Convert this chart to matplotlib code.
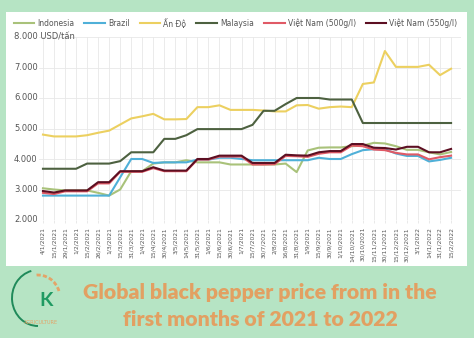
#!/usr/bin/env python3
# -*- coding: utf-8 -*-
import numpy as np
import matplotlib
matplotlib.use("Agg")
import matplotlib.pyplot as plt
from matplotlib.patches import Rectangle, Arc

#!----------------------------------------------------------------------
#!	DATA
#!----------------------------------------------------------------------
dates = ["4/1/2021", "15/1/2021", "29/1/2021", "1/2/2021", "15/2/2021", "26/2/2021",
	"1/3/2021", "15/3/2021", "31/3/2021", "1/4/2021", "15/4/2021", "30/4/2021",
	"3/5/2021", "14/5/2021", "31/5/2021", "1/6/2021", "15/6/2021", "30/6/2021",
	"1/7/2021", "15/7/2021", "30/7/2021", "2/8/2021", "16/8/2021", "31/8/2021",
	"1/9/2021", "15/9/2021", "30/9/2021", "1/10/2021", "14/10/2021", "30/10/2021",
	"15/11/2021", "30/11/2021", "15/12/2021", "30/12/2021", "3/1/2022", "14/1/2022",
	"31/1/2022", "15/2/2022"]

indonesia = [3040, 3000, 2970, 2970, 2970, 2890, 2800, 3000, 3600, 3600, 3850, 3890,
	3890, 3960, 3890, 3890, 3890, 3820, 3820, 3820, 3820, 3820, 3850, 3570,
	4280, 4370, 4380, 4380, 4420, 4440, 4530, 4510, 4420, 4300, 4300, 4220,
	4150, 4230]
brazil = [2800, 2800, 2800, 2800, 2800, 2800, 2800, 3400, 4000, 4000, 3870, 3890,
	3890, 3890, 3980, 3980, 4040, 4040, 4000, 3960, 3960, 3960, 3960, 3960,
	3960, 4040, 4000, 4000, 4160, 4290, 4320, 4320, 4180, 4100, 4100, 3920,
	3970, 4040]
an_do = [4800, 4740, 4740, 4740, 4780, 4860, 4930, 5130, 5330, 5400, 5480, 5300,
	5300, 5310, 5700, 5700, 5760, 5610, 5610, 5610, 5590, 5560, 5560, 5760,
	5770, 5650, 5700, 5720, 5700, 6460, 6510, 7540, 7020, 7020, 7020, 7090,
	6750, 6960]
malaysia = [3680, 3680, 3680, 3680, 3850, 3850, 3850, 3930, 4220, 4220, 4220, 4660,
	4660, 4780, 4980, 4980, 4980, 4980, 4980, 5120, 5580, 5580, 5800, 6000,
	6000, 6000, 5950, 5950, 5950, 5180, 5180, 5180, 5180, 5180, 5180, 5180,
	5180, 5180]
vn500 = [2890, 2850, 2940, 2940, 2940, 3200, 3200, 3580, 3580, 3580, 3700, 3600,
	3600, 3600, 3980, 3980, 4080, 4080, 4080, 3820, 3820, 3830, 4100, 4090,
	4070, 4170, 4220, 4220, 4440, 4420, 4310, 4290, 4200, 4150, 4150, 3990,
	4060, 4110]
vn550 = [2950, 2900, 2970, 2970, 2970, 3240, 3240, 3600, 3600, 3600, 3730, 3620,
	3620, 3620, 4000, 4000, 4110, 4110, 4110, 3870, 3870, 3870, 4140, 4120,
	4110, 4220, 4260, 4260, 4490, 4490, 4370, 4360, 4310, 4400, 4400, 4220,
	4220, 4330]

series = [("Indonesia", indonesia, "#a9c27a"),
	("Brazil", brazil, "#4fb0d8"),
	("Ấn Độ", an_do, "#ecd060"),
	("Malaysia", malaysia, "#4d6140"),
	("Việt Nam (500g/l)", vn500, "#e05a66"),
	("Việt Nam (550g/l)", vn550, "#5c0f22")]

yticks = [2000, 3000, 4000, 5000, 6000, 7000, 8000]

#!----------------------------------------------------------------------
#!	PLOT
#!----------------------------------------------------------------------
W, H = 474, 338
fig = plt.figure(figsize=(W/100.0, H/100.0), dpi=100)
fig.patch.set_facecolor("#b6e4c4")

# white card
fig.patches.append(Rectangle((6.0/W, 1-266.0/H), 461.0/W, 254.0/H,
	transform=fig.transFigure, facecolor="white", edgecolor="none", zorder=-5))

ax = fig.add_axes([39.0/W, 1-220.0/H, 422.0/W, 183.0/H], zorder=2)
ax.set_facecolor("none")

x = np.arange(len(dates))
for name, vals, col in series:
	ax.plot(x, vals, '-', color=col, lw=1.5, label=name)

ax.set_xlim(-0.36, 37.9)
ax.set_ylim(2000, 8000)
ax.set_xticks(x)
ax.set_xticklabels(dates, rotation=90, fontsize=4.3, color="#555555")
ax.set_yticks(yticks)
ax.set_yticklabels([])
ax.tick_params(axis='x', length=2, width=0.5, color="#e0e0e0", pad=3)
ax.tick_params(axis='y', length=0)
ax.grid(True, color="#e8e8e8", lw=0.6)
ax.set_axisbelow(True)
for s in ax.spines.values():
	s.set_visible(False)

ytr = ax.get_yaxis_transform()
for v in yticks:
	lab = "{:,}".format(v).replace(",", ".")
	if v == yticks[-1]:
		lab = lab + " USD/tấn"
	ax.text(-0.0592, v, lab, transform=ytr, ha='left', va='center',
		fontsize=6, color="#555555")

fig.legend(loc='center', bbox_to_anchor=(0.497, 1-23.0/H), ncol=6, frameon=False,
	fontsize=5.5, handlelength=2.7, handletextpad=0.4, columnspacing=1.3,
	labelcolor="#555555")

# bottom banner
title_col = "#e2a062"
fig.text(0.549, 1-292.0/H, "Global black pepper price from in the",
	ha='center', va='center', fontsize=15.3, fontweight='heavy',
	color=title_col, family="Lato")
fig.text(0.549, 1-319.0/H, "first months of 2021 to 2022",
	ha='center', va='center', fontsize=15.3, fontweight='heavy',
	color=title_col, family="Lato")

# logo
fig.patches.append(Arc((38.0/W, 1-298.0/H), 52.0/W, 56.0/H, theta1=100, theta2=270,
	transform=fig.transFigure, color="#1f8a5a", lw=1.4))
fig.patches.append(Arc((38.0/W, 1-298.0/H), 44.0/W, 46.0/H, theta1=25, theta2=95,
	transform=fig.transFigure, color="#e3a468", lw=2.0, ls=(0, (1.5, 0.8))))
fig.text(46.0/W, 1-301.0/H, "K", ha='center', va='center', fontsize=14,
	fontweight='bold', color="#1f9a62", family="Lato")
fig.text(41.0/W, 1-323.0/H, "AGRICULTURE", ha='center', va='center',
	fontsize=3.6, color="#e3a468")

plt.savefig("out.png", dpi=100, facecolor=fig.get_facecolor())
